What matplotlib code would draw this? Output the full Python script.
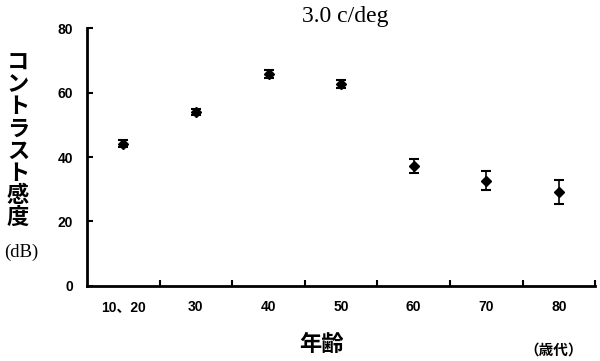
import matplotlib
matplotlib.use("Agg")
import matplotlib.pyplot as plt
import numpy as np

# data
groups = ['10、20', '30', '40', '50', '60', '70', '80']
sens = [44.2, 54.0, 65.7, 62.6, 37.2, 32.7, 29.2]
err = [1.2, 1.0, 1.2, 1.2, 2.2, 3.0, 3.8]
yticks = [0, 20, 40, 60, 80]

jp = ['Noto Sans CJK JP']
num = ['Liberation Sans', 'Noto Sans CJK JP']
serif = ['Liberation Serif']

fig = plt.figure(figsize=(6, 3.61), dpi=100)
ax = fig.add_axes([0.145, 0.208, 0.847, 0.714])

x = np.arange(len(groups))
ax.errorbar(x, sens, yerr=err, fmt='D', color='black', markersize=5.5,
            elinewidth=1.2, capsize=3.5, capthick=1.5)

ax.set_xlim(-0.5, len(groups) - 0.5)
ax.set_ylim(0, 80)
ax.set_yticks(yticks)
ax.set_yticklabels([str(v) for v in yticks], family=num, fontweight='bold', fontsize=10)
ax.set_xticks(x)
ax.set_xticklabels(groups, family=num, fontweight='bold', fontsize=10)
ax.set_xticks(np.arange(len(groups)) + 0.5, minor=True)
ax.tick_params(axis='x', which='major', length=0, pad=10)
ax.tick_params(axis='x', which='minor', direction='in', length=4, width=1.5)
ax.tick_params(axis='y', direction='in', length=4, width=1.5, pad=10)

for s in ['top', 'right']:
    ax.spines[s].set_visible(False)
for s in ['left', 'bottom']:
    ax.spines[s].set_linewidth(2)

fig.text(0.575, 0.955, '3.0 c/deg', family=serif, fontsize=17, ha='center', va='center')

fig.text(0.03, 0.612, '\n'.join('コントラスト感度'), family=jp, fontweight='bold',
         fontsize=16, ha='center', va='center', linespacing=0.95)
fig.text(0.036, 0.300, '(dB)', family=serif, fontsize=13.5, ha='center', va='center')

fig.text(0.535, 0.045, '年齢', family=jp, fontweight='bold', fontsize=16, ha='center', va='center')
fig.text(0.923, 0.033, '（歳代）', family=jp, fontweight='bold', fontsize=10.5, ha='center', va='center')

fig.savefig('out.png', dpi=100)
